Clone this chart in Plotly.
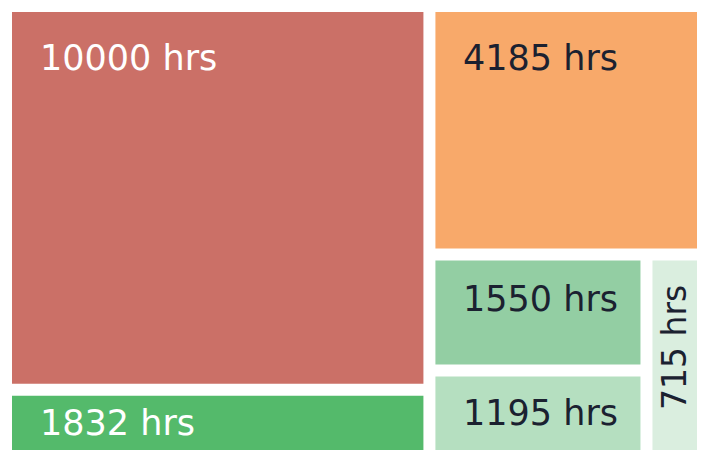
import plotly.graph_objects as go

# ---- data -------------------------------------------------------------
labels = ["10000 hrs", "1832 hrs", "4185 hrs", "1550 hrs", "1195 hrs", "715 hrs"]
hours = [10000, 1832, 4185, 1550, 1195, 715]
leaf_ids = ["h10000", "h1832", "h4185", "h1550", "h1195", "h715"]
leaf_parents = ["left", "left", "right", "pair", "pair", "lower"]
colors = ["#CB7067", "#54BA6B", "#F8A96A", "#93CEA3", "#B5DFC0", "#DAEEDF"]
text_colors = ["#FFFFFF", "#FFFFFF", "#1B2130", "#1B2130", "#1B2130", "#1B2130"]
vertical_label = [False, False, False, False, False, True]

# grouping nodes (hierarchy used to arrange the cells)
group_ids = ["root", "left", "right", "lower", "pair"]
group_parents = ["", "root", "root", "right", "lower"]

# ---- styling ----------------------------------------------------------
W, H = 726, 450
PAGE = 8                                   # default page margin of the html body
X0, X1, Y0, Y1 = 12 - PAGE, 697 - PAGE, 12 - PAGE, 454 - PAGE   # figure px
VIS_BOTTOM = 450 - PAGE
PAD = 12
FONT = "DejaVu Sans"
FS = 35

# ---- build ordered node list ------------------------------------------
order = ["root", "left", "h10000", "h1832", "right", "h4185", "lower", "pair",
         "h1550", "h1195", "h715"]
parent_of = dict(zip(group_ids, group_parents))
parent_of.update(dict(zip(leaf_ids, leaf_parents)))
leaf_val = dict(zip(leaf_ids, hours))
children = {n: [m for m in order if parent_of[m] == n] for n in order}


def total(n):
    if n in leaf_val:
        return leaf_val[n]
    return sum(total(c) for c in children[n])


values = [total(n) for n in order]
col_map = dict(zip(leaf_ids, colors))
node_colors = [col_map.get(n, "rgba(255,255,255,1)") for n in order]

fig = go.Figure(go.Treemap(
    ids=order,
    labels=order,
    parents=[parent_of[n] for n in order],
    values=values,
    branchvalues="total",
    sort=False,
    textinfo="none",
    hoverinfo="skip",
    marker=dict(colors=node_colors, line=dict(width=0),
                pad=dict(t=0, l=0, r=0, b=0), cornerradius=4),
    tiling=dict(packing="slice-dice", pad=PAD),
    pathbar=dict(visible=False),
    root=dict(color="white"),
    domain=dict(x=[X0 / W, X1 / W], y=[1 - Y1 / H, 1 - Y0 / H]),
))

# ---- replicate d3 slice-dice layout to place labels -------------------
depth = {}


def set_depth(n, d):
    depth[n] = d
    for c in children[n]:
        set_depth(c, d + 1)


set_depth("root", 0)
rects = {}


def place(n, x0, y0, x1, y1, p):
    x0 += p; y0 += p; x1 -= p; y1 -= p
    rects[n] = (x0, y0, x1, y1)
    kids = children[n]
    if not kids:
        return
    q = PAD / 2
    ax0, ay0, ax1, ay1 = x0 - q, y0 - q, x1 + q, y1 + q
    tv = total(n)
    if depth[n] % 2 == 0:   # dice: side by side
        k = (ax1 - ax0) / tv
        cx = ax0
        for c in kids:
            nx = cx + total(c) * k
            place(c, cx, ay0, nx, ay1, q)
            cx = nx
    else:                   # slice: stacked
        k = (ay1 - ay0) / tv
        cy = ay0
        for c in kids:
            ny = cy + total(c) * k
            place(c, ax0, cy, ax1, ny, q)
            cy = ny


place("root", X0, Y0, X1, Y1, 0)

annotations = []
for lid, lab, tc, vert in zip(leaf_ids, labels, text_colors, vertical_label):
    x0, y0, x1, y1 = rects[lid]
    y1v = min(y1, VIS_BOTTOM)
    if vert:
        annotations.append(dict(
            x=((x0 + x1) / 2) / W, y=1 - ((y0 + y1v) / 2 - 8) / H,
            xref="paper", yref="paper", text=lab, showarrow=False,
            textangle=-90, xanchor="center", yanchor="middle",
            font=dict(family=FONT, size=FS - 2, color=tc)))
    else:
        inset = 46 if (y1v - y0) > 150 else 38
        inset = min(inset, (y1v - y0) / 2)
        annotations.append(dict(
            x=(x0 + 26) / W, y=1 - (y0 + inset) / H,
            xref="paper", yref="paper", text=lab, showarrow=False,
            xanchor="left", yanchor="middle",
            font=dict(family=FONT, size=FS, color=tc)))

fig.update_layout(
    width=W, height=H,
    margin=dict(l=0, r=0, t=0, b=0),
    paper_bgcolor="white",
    annotations=annotations,
    showlegend=False,
)

fig.write_html("out.html")
